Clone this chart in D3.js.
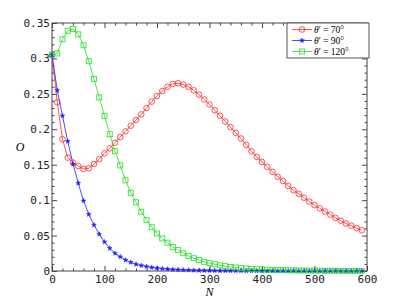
<!DOCTYPE html>
<html>
<head>
<meta charset="utf-8">
<script src="https://cdn.jsdelivr.net/npm/d3@7"></script>
<style>
  body { margin: 0; background: #fff; }
  .tick text { font-family: "DejaVu Sans Mono", monospace; font-size: 11px; fill: #222; }
  .axis path, .axis line { stroke: #444; }
</style>
</head>
<body>
<div id="chart"></div>
<script>
// N values (x)
const nValues = [0, 10, 20, 30, 40, 50, 60, 70, 80, 90, 100, 110, 120, 130, 140, 150, 160, 170, 180, 190,
  200, 210, 220, 230, 240, 250, 260, 270, 280, 290, 300, 310, 320, 330, 340, 350, 360, 370, 380, 390,
  400, 410, 420, 430, 440, 450, 460, 470, 480, 490, 500, 510, 520, 530, 540, 550, 560, 570, 580, 590];

// theta' = 70
const series70 = [0.305, 0.238, 0.186, 0.160, 0.153, 0.148, 0.144, 0.145, 0.151, 0.158,
  0.166, 0.173, 0.181, 0.189, 0.197, 0.205, 0.213, 0.221, 0.230, 0.239,
  0.247, 0.254, 0.260, 0.264, 0.265, 0.263, 0.260, 0.255, 0.249, 0.242,
  0.235, 0.227, 0.219, 0.211, 0.203, 0.195, 0.187, 0.178, 0.169, 0.161,
  0.154, 0.147, 0.140, 0.133, 0.127, 0.120, 0.114, 0.109, 0.1035, 0.098,
  0.093, 0.0885, 0.084, 0.0795, 0.075, 0.071, 0.067, 0.064, 0.0605, 0.0575];

// theta' = 90
const series90 = [0.305, 0.255, 0.219, 0.183, 0.151, 0.124, 0.099, 0.080, 0.065, 0.052,
  0.041, 0.032, 0.025, 0.020, 0.0155, 0.0123, 0.0095, 0.0078, 0.0062, 0.005,
  0.004, 0.0033, 0.0027, 0.0022, 0.0018, 0.0015, 0.0012, 0.001, 0.0008, 0.0007,
  0.0006, 0.0005, 0.0004, 0.0004, 0.0003, 0.0003, 0.0003, 0.0002, 0.0002, 0.0002,
  0.0002, 0.0001, 0.0001, 0.0001, 0.0001, 0.0001, 0.0001, 0.0001, 0.0001, 0.0001,
  0.0001, 0.0001, 0.0001, 0.0001, 0.0001, 0.0001, 0.0001, 0.0001, 0.0001, 0.0001];

// theta' = 120
const series120 = [0.305, 0.307, 0.327, 0.339, 0.3415, 0.334, 0.3185, 0.296, 0.271, 0.245,
  0.219, 0.193, 0.169, 0.149, 0.128, 0.1105, 0.097, 0.0837, 0.072, 0.0617,
  0.053, 0.046, 0.040, 0.034, 0.0296, 0.025, 0.021, 0.018, 0.0155, 0.013,
  0.011, 0.0095, 0.008, 0.0068, 0.0058, 0.005, 0.0042, 0.0036, 0.003, 0.0026,
  0.0022, 0.0019, 0.0016, 0.0014, 0.0012, 0.001, 0.0009, 0.0008, 0.0007, 0.0006,
  0.0005, 0.0005, 0.0004, 0.0004, 0.0003, 0.0003, 0.0003, 0.0002, 0.0002, 0.0002];

const seriesLabels = ['70°', '90°', '120°'];
const xTicks = [0, 100, 200, 300, 400, 500, 600];
const yTicks = [0, 0.05, 0.1, 0.15, 0.2, 0.25, 0.3, 0.35];

const totalWidth = 407;
const totalHeight = 305;
const margin = { top: 23, right: 40, bottom: 34, left: 52 };
const width = totalWidth - margin.left - margin.right;
const height = totalHeight - margin.top - margin.bottom;

const svg = d3.select('#chart').append('svg')
  .attr('width', totalWidth)
  .attr('height', totalHeight);

const g = svg.append('g')
  .attr('transform', 'translate(' + margin.left + ',' + margin.top + ')');

const xScale = d3.scaleLinear().domain([0, 600]).range([0, width]);
const yScale = d3.scaleLinear().domain([0, 0.35]).range([height, 0]);

const xMinor = d3.range(0, 601, 20).filter(d => d % 100 !== 0);
const yMinor = d3.range(0, 36, 1).map(d => d / 100).filter(d => Math.round(d * 100) % 5 !== 0);
const yFmt = d => d === 0 ? '0' : String(+d.toFixed(2));

// minor ticks (all four sides, pointing inward)
const minorLen = 2.5;
const majorLen = 5;
g.append('g').attr('class', 'axis').attr('transform', 'translate(0,' + height + ')')
  .call(d3.axisBottom(xScale).tickValues(xMinor).tickSizeInner(-minorLen).tickSizeOuter(0).tickFormat(''));
g.append('g').attr('class', 'axis')
  .call(d3.axisTop(xScale).tickValues(xMinor).tickSizeInner(-minorLen).tickSizeOuter(0).tickFormat(''));
g.append('g').attr('class', 'axis')
  .call(d3.axisLeft(yScale).tickValues(yMinor).tickSizeInner(-minorLen).tickSizeOuter(0).tickFormat(''));
g.append('g').attr('class', 'axis').attr('transform', 'translate(' + width + ',0)')
  .call(d3.axisRight(yScale).tickValues(yMinor).tickSizeInner(-minorLen).tickSizeOuter(0).tickFormat(''));

// major ticks
g.append('g').attr('class', 'axis').attr('transform', 'translate(0,' + height + ')')
  .call(d3.axisBottom(xScale).tickValues(xTicks).tickSizeInner(-majorLen).tickSizeOuter(0).tickPadding(4).tickFormat(d3.format('d')));
g.append('g').attr('class', 'axis')
  .call(d3.axisTop(xScale).tickValues(xTicks).tickSizeInner(-majorLen).tickSizeOuter(0).tickFormat(''));
g.append('g').attr('class', 'axis')
  .call(d3.axisLeft(yScale).tickValues(yTicks).tickSizeInner(-majorLen).tickSizeOuter(0).tickPadding(2).tickFormat(yFmt));
g.append('g').attr('class', 'axis').attr('transform', 'translate(' + width + ',0)')
  .call(d3.axisRight(yScale).tickValues(yTicks).tickSizeInner(-majorLen).tickSizeOuter(0).tickFormat(''));

g.selectAll('.axis .domain').remove();

// frame
g.append('rect')
  .attr('width', width)
  .attr('height', height)
  .attr('fill', 'none')
  .attr('stroke', '#444')
  .attr('stroke-width', 1);

// series
const seriesList = [
  { values: series70, color: '#ff2a2a', marker: 'circle' },
  { values: series90, color: '#2020ff', marker: 'star' },
  { values: series120, color: '#22e022', marker: 'square' }
];

const line = d3.line()
  .x((d, i) => xScale(nValues[i]))
  .y(d => yScale(d));

const drawMarker = (sel, marker, color) => {
  if (marker === 'circle') {
    sel.append('circle').attr('r', 2.8)
      .attr('fill', 'none').attr('stroke', color).attr('stroke-width', 0.8);
  } else if (marker === 'star') {
    sel.append('path').attr('d', d3.symbol(d3.symbolStar, 7)())
      .attr('fill', color).attr('stroke', color).attr('stroke-width', 0.5);
  } else {
    sel.append('rect').attr('x', -2.5).attr('y', -2.5).attr('width', 5).attr('height', 5)
      .attr('fill', 'none').attr('stroke', color).attr('stroke-width', 0.8);
  }
};

for (const s of seriesList) {
  const sg = g.append('g');
  sg.append('path')
    .datum(s.values)
    .attr('d', line)
    .attr('fill', 'none')
    .attr('stroke', s.color)
    .attr('stroke-width', 0.8);

  sg.selectAll('.pt')
    .data(s.values)
    .enter()
    .append('g')
    .attr('transform', (d, i) => 'translate(' + xScale(nValues[i]) + ',' + yScale(d) + ')')
    .each(function () { drawMarker(d3.select(this), s.marker, s.color); });
}

// axis titles
svg.append('text')
  .attr('x', margin.left + width / 2)
  .attr('y', 296)
  .attr('text-anchor', 'middle')
  .attr('font-family', '"Liberation Serif", serif')
  .attr('font-style', 'italic')
  .attr('font-size', 12)
  .text('N');

svg.append('text')
  .attr('x', 20)
  .attr('y', margin.top + height / 2 + 4)
  .attr('text-anchor', 'middle')
  .attr('font-family', '"Liberation Serif", serif')
  .attr('font-style', 'italic')
  .attr('font-size', 12)
  .text('O');

// legend
const legend = svg.append('g').attr('transform', 'translate(287,23)');
legend.append('rect')
  .attr('width', 82)
  .attr('height', 35)
  .attr('fill', '#fff')
  .attr('stroke', '#555')
  .attr('stroke-width', 1);

seriesList.forEach((s, i) => {
  const row = legend.append('g').attr('transform', 'translate(0,' + (6.5 + i * 11) + ')');
  row.append('line')
    .attr('x1', 5).attr('x2', 25)
    .attr('stroke', s.color).attr('stroke-width', 0.8);
  const m = row.append('g').attr('transform', 'translate(15,0)');
  drawMarker(m, s.marker, s.color);
  const t = row.append('text')
    .attr('x', 27)
    .attr('dy', '0.33em')
    .attr('font-family', '"Liberation Serif", serif')
    .attr('font-size', 9.5);
  t.append('tspan').attr('font-style', 'italic').text('θ');
  t.append('tspan').text('′\u00a0=\u00a0' + seriesLabels[i]);
});
</script>
</body>
</html>
